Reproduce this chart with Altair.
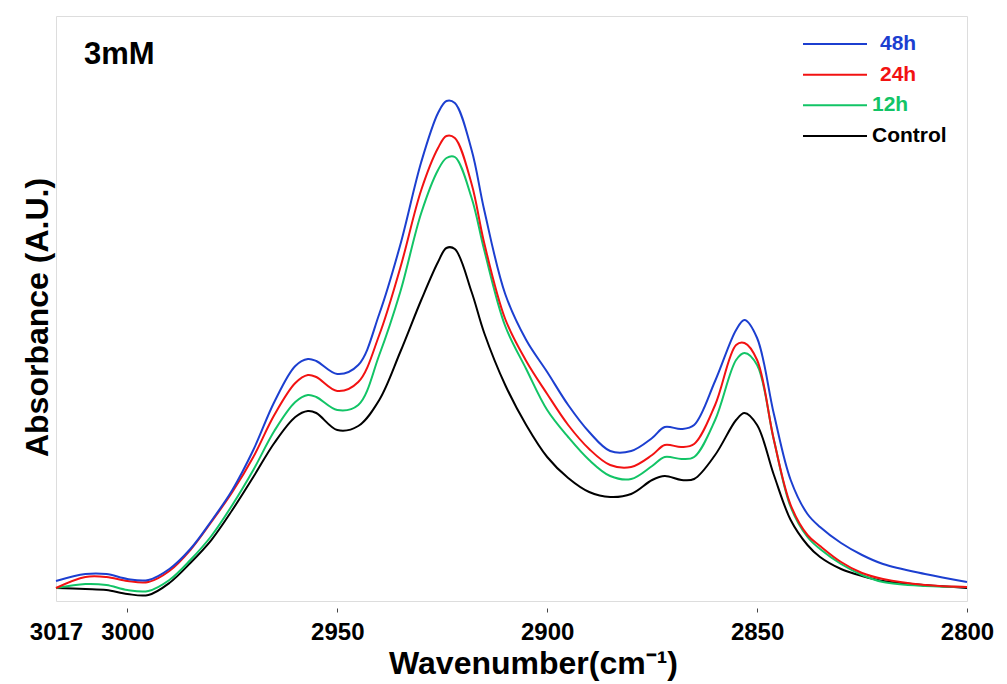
import altair as alt
import pandas as pd

# Wavenumbers (cm-1)
wn = [3017, 3010, 3005, 3000, 2995, 2990, 2985, 2980, 2975, 2970, 2965, 2960,
      2957, 2955, 2950, 2945, 2940, 2935, 2930, 2926, 2924, 2922, 2918, 2915,
      2910, 2905, 2900, 2895, 2890, 2885, 2880, 2875, 2872, 2868, 2865, 2860,
      2855, 2853, 2850, 2846, 2842, 2838, 2835, 2830, 2825, 2820, 2810, 2800]

h48 = [0.020, 0.027, 0.027, 0.022, 0.021, 0.032, 0.052, 0.080, 0.111, 0.151, 0.199, 0.235,
       0.242, 0.240, 0.227, 0.236, 0.287, 0.356, 0.439, 0.488, 0.500, 0.498, 0.451, 0.391,
       0.307, 0.261, 0.229, 0.196, 0.169, 0.150, 0.150, 0.163, 0.174, 0.172, 0.176, 0.220,
       0.271, 0.281, 0.263, 0.187, 0.121, 0.087, 0.074, 0.058, 0.046, 0.037, 0.027, 0.019]

h24 = [0.013, 0.024, 0.024, 0.020, 0.019, 0.030, 0.051, 0.079, 0.109, 0.144, 0.186, 0.218,
       0.226, 0.224, 0.210, 0.219, 0.266, 0.333, 0.411, 0.453, 0.465, 0.463, 0.417, 0.358,
       0.282, 0.240, 0.207, 0.176, 0.152, 0.136, 0.134, 0.146, 0.156, 0.154, 0.157, 0.196,
       0.256, 0.258, 0.241, 0.161, 0.096, 0.066, 0.055, 0.039, 0.028, 0.022, 0.016, 0.014]

h12 = [0.013, 0.017, 0.016, 0.011, 0.010, 0.021, 0.041, 0.065, 0.096, 0.131, 0.170, 0.199,
       0.206, 0.204, 0.191, 0.196, 0.246, 0.309, 0.388, 0.431, 0.443, 0.444, 0.403, 0.351,
       0.275, 0.232, 0.191, 0.164, 0.141, 0.125, 0.122, 0.135, 0.144, 0.142, 0.144, 0.181,
       0.241, 0.248, 0.236, 0.161, 0.094, 0.064, 0.052, 0.037, 0.026, 0.019, 0.015, 0.014]

control = [0.013, 0.012, 0.011, 0.007, 0.006, 0.018, 0.038, 0.061, 0.091, 0.124, 0.158, 0.184,
           0.190, 0.188, 0.171, 0.175, 0.201, 0.249, 0.301, 0.339, 0.353, 0.352, 0.309, 0.268,
           0.216, 0.176, 0.144, 0.123, 0.109, 0.104, 0.107, 0.121, 0.125, 0.121, 0.122, 0.146,
           0.181, 0.188, 0.176, 0.126, 0.081, 0.056, 0.044, 0.032, 0.025, 0.020, 0.016, 0.013]

series_names = ["48h", "24h", "12h", "Control"]
series_colors = ["#1c3fd0", "#f21212", "#12c466", "#000000"]
tick_values = [3017, 3000, 2950, 2900, 2850, 2800]
panel_label = ["3mM"]

# long table, drawn Control first so 48h ends on top
rows = []
for name, vals in [("Control", control), ("12h", h12), ("24h", h24), ("48h", h48)]:
    for i, (w, a) in enumerate(zip(wn, vals)):
        rows.append({"wn": w, "A": a, "series": name, "i": i})
df = pd.DataFrame(rows)
legend_df = pd.DataFrame({"series": series_names})

FONT = "Liberation Sans"
color_scale = alt.Scale(domain=series_names, range=series_colors)

lines = alt.Chart(df).mark_line(strokeWidth=2, interpolate="catmull-rom").encode(
    x=alt.X("wn:Q",
            scale=alt.Scale(domain=[2800, 3017], reverse=True, nice=False, zero=False),
            axis=alt.Axis(values=tick_values, format="d", grid=False, domain=False,
                          offset=7, tickSize=4, tickColor="#444", tickWidth=1,
                          tickOpacity={"condition": {"test": "datum.value == 3017", "value": 0}, "value": 1},
                          labelPadding=8, labelFont=FONT, labelFontSize=24,
                          labelFontWeight="bold", labelColor="#000",
                          labelOverlap=False, labelBound=False, labelFlush=False,
                          labelExpr="'\u00a0\u00a0' + datum.label",
                          title="Wavenumber(cm\u207b\u00b9)", titleFont=FONT, titleFontSize=32,
                          titleFontWeight="bold", titleColor="#000",
                          titleX=477, titleY=65, titleBaseline="alphabetic",
                          titleAlign="center")),
    y=alt.Y("A:Q", scale=alt.Scale(domain=[0, 0.585], nice=False, zero=False),
            axis=alt.Axis(labels=False, ticks=False, domain=False, grid=False,
                          title="Absorbance (A.U.)", titleFont=FONT, titleFontSize=32,
                          titleFontWeight="bold", titleColor="#000",
                          titleAngle=270, titleX=-9, titleY=301,
                          titleBaseline="alphabetic", titleAlign="center")),
    color=alt.Color("series:N", scale=color_scale, legend=None),
    detail="series:N",
    order="i:Q",
)

# hand-made legend (rows placed by a point scale)
leg_y = alt.Y("series:N", scale=alt.Scale(type="point", domain=series_names,
                                          range=[28, 120], padding=0), axis=None)
leg_rules = alt.Chart(legend_df).mark_rule(strokeWidth=2).encode(
    x=alt.value(747), x2=alt.value(811), y=leg_y,
    color=alt.Color("series:N", scale=color_scale, legend=None))
leg_text_a = alt.Chart(legend_df).transform_filter(
    "datum.series == '48h' || datum.series == '24h'"
).mark_text(font=FONT, fontSize=21, fontWeight="bold", align="left", baseline="middle").encode(
    x=alt.value(824), y=leg_y, text="series:N",
    color=alt.Color("series:N", scale=color_scale, legend=None))
leg_text_b = alt.Chart(legend_df).transform_filter(
    "datum.series == '12h' || datum.series == 'Control'"
).mark_text(font=FONT, fontSize=21, fontWeight="bold", align="left", baseline="middle").encode(
    x=alt.value(816), y=leg_y, text="series:N",
    color=alt.Color("series:N", scale=color_scale, legend=None))

label = alt.Chart(pd.DataFrame({"t": panel_label})).mark_text(
    font=FONT, fontSize=31, fontWeight="bold", align="left", baseline="alphabetic", color="#000"
).encode(x=alt.value(28), y=alt.value(48), text="t:N")

legend_layer = alt.layer(leg_rules, leg_text_a, leg_text_b)

chart = alt.layer(lines, legend_layer, label).resolve_scale(y="independent").properties(
    width=911, height=585,
    autosize=alt.AutoSizeParams(type="none"),
    padding={"left": 56, "top": 16, "right": 40, "bottom": 83},
).configure_view(stroke="#555", strokeWidth=1.5).configure(background="white")

chart.save("out.html", embed_options={"renderer": "svg", "actions": False})
